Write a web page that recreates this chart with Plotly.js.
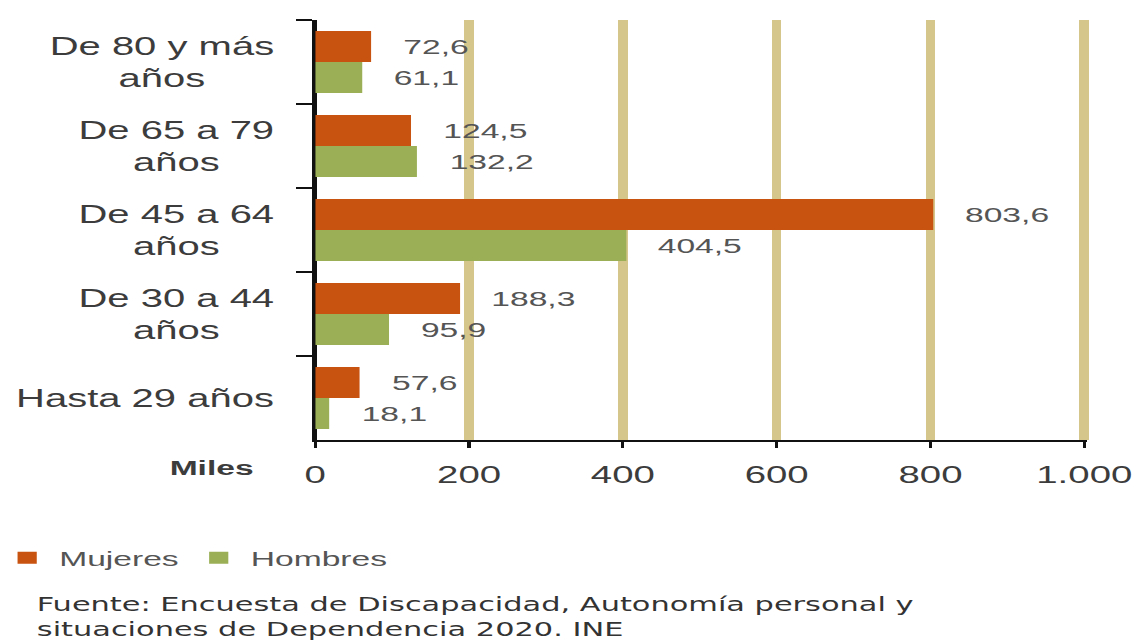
<!DOCTYPE html>
<html lang="es">
<head>
<meta charset="utf-8">
<script src="https://cdn.plot.ly/plotly-3.0.1.min.js"></script>
<style>
  html, body { margin: 0; padding: 0; background: #ffffff; overflow: hidden; }
  /* The chart is laid out at 713px and stretched horizontally to fill 1141px */
  #chart { width: 713px; height: 644px; transform: scaleX(1.6003); transform-origin: 0 0; }
</style>
</head>
<body>
<div id="chart"></div>
<script>
// Personas con discapacidad por grupo de edad y sexo (miles)
const ageGroups = ['De 80 y más años', 'De 65 a 79 años', 'De 45 a 64 años', 'De 30 a 44 años', 'Hasta 29 años'];
const ageLabels = ['De 80 y más<br>años', 'De 65 a 79<br>años', 'De 45 a 64<br>años', 'De 30 a 44<br>años', 'Hasta 29 años'];
const mujeres = [72.6, 124.5, 803.6, 188.3, 57.6];
const hombres = [61.1, 132.2, 404.5, 95.9, 18.1];
const xTickVals = [0, 200, 400, 600, 800, 1000];
const xTickText = ['0', '200', '400', '600', '800', '1.000'];
const sourceLines = [
  'Fuente: Encuesta de Discapacidad, Autonomía personal y',
  'situaciones de Dependencia 2020. INE'
];

const FONT = 'Liberation Sans, Arial, sans-serif';
const COLOR_M = '#C8520F';
const COLOR_H = '#9BAF56';

const fmt = v => v.toFixed(1).replace('.', ',');

const traces = [
  { type: 'bar', orientation: 'h', name: 'Mujeres', y: ageGroups, x: mujeres,
    marker: { color: COLOR_M }, hoverinfo: 'x+name' },
  { type: 'bar', orientation: 'h', name: 'Hombres', y: ageGroups, x: hombres,
    marker: { color: COLOR_H }, hoverinfo: 'x+name' }
];

const annotations = [];
// value labels to the right of each bar
const series = [[mujeres, 15.5], [hombres, -15.5]];
series.forEach(([vals, dy]) => {
  vals.forEach((v, i) => {
    annotations.push({
      x: v, y: ageGroups[i], xref: 'x', yref: 'y',
      text: fmt(v), showarrow: false, xanchor: 'left', yanchor: 'middle',
      xshift: 18, yshift: dy,
      font: { family: FONT, size: 21, color: '#555555' }
    });
  });
});
// category labels (block right-aligned, lines centred)
ageLabels.forEach((lab, i) => {
  annotations.push({
    x: 0, xref: 'paper', y: ageGroups[i], yref: 'y',
    text: lab, showarrow: false, xanchor: 'right', yanchor: 'middle', align: 'center',
    xshift: -24,
    font: { family: FONT, size: 25, color: '#3c3c3c' }
  });
});
// unit label
annotations.push({
  x: 0, xref: 'paper', y: 0, yref: 'paper', text: '<b>Miles</b>', showarrow: false,
  xanchor: 'right', yanchor: 'middle', xshift: -36, yshift: -27,
  font: { family: FONT, size: 21, color: '#3c3c3c' }
});
// source note
annotations.push({
  x: 0, xref: 'paper', y: 0, yref: 'paper', showarrow: false, align: 'left',
  xanchor: 'left', yanchor: 'middle', xshift: -176, yshift: -176,
  text: sourceLines.join('<br>'),
  font: { family: 'DejaVu Sans, Liberation Sans, sans-serif', size: 19, color: '#333333' }
});

const layout = {
  width: 713, height: 644,
  margin: { l: 197, r: 34, t: 20, b: 204, autoexpand: false },
  paper_bgcolor: '#ffffff', plot_bgcolor: '#ffffff',
  font: { family: FONT, color: '#3c3c3c' },
  barmode: 'group', bargap: 0.26, bargroupgap: 0,
  showlegend: true,
  legend: {
    orientation: 'h', x: -0.415, xanchor: 'left', y: -0.281, yanchor: 'middle',
    itemwidth: 30, font: { family: FONT, size: 21, color: '#555555' },
    bgcolor: 'rgba(0,0,0,0)', traceorder: 'normal'
  },
  xaxis: {
    range: [0, 1003], tickvals: xTickVals, ticktext: xTickText,
    showgrid: true, gridcolor: '#D5C68C', gridwidth: 6,
    zeroline: true, zerolinecolor: '#111111', zerolinewidth: 2,
    showline: true, linecolor: '#111111', linewidth: 2,
    ticks: 'outside', ticklen: 6, tickwidth: 2, tickcolor: '#111111',
    ticklabelstandoff: 6,
    tickfont: { family: FONT, size: 24, color: '#3c3c3c' },
    fixedrange: true
  },
  yaxis: {
    type: 'category', range: [4.5, -0.5],
    showticklabels: false, showgrid: false, zeroline: false,
    showline: true, linecolor: '#111111', linewidth: 2,
    ticks: 'outside', tickson: 'boundaries', ticklen: 10, tickwidth: 2, tickcolor: '#111111',
    fixedrange: true
  },
  annotations: annotations
};

Plotly.newPlot('chart', traces, layout, { displayModeBar: false, staticPlot: true });
</script>
</body>
</html>
